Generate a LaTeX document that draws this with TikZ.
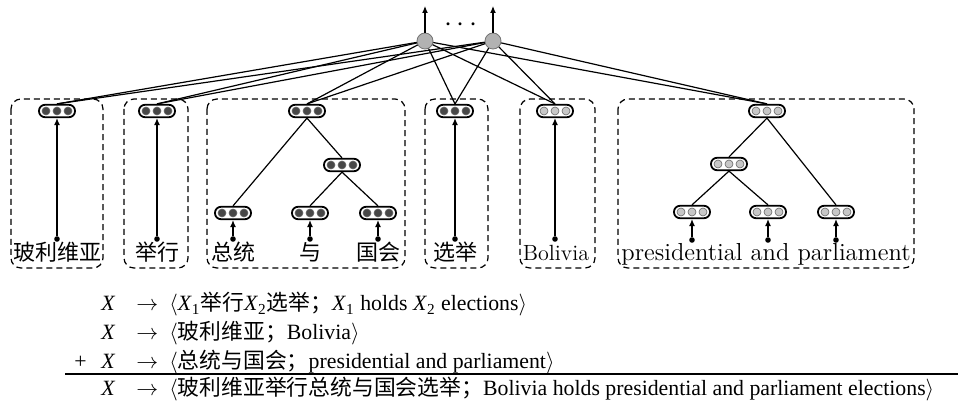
\documentclass[tikz,border=0pt]{standalone}
\usepackage{fontspec}
\usepackage{tikz}
\usetikzlibrary{
	positioning,    % relative placement
	arrows.meta,    % Latex tips
	calc
}
\newfontfamily\cjk{Noto Sans CJK SC}
\newfontfamily\timesfont{Liberation Serif}

\colorlet{chfill}{black!72}  % Chinese side vectors
\colorlet{enfill}{black!22}  % English side vectors

\tikzset{
	vecbox/.style={draw, line width=0.9pt, fill=white, rounded corners=3pt,
		minimum width=18pt, minimum height=6.2pt, inner sep=0pt},
	groupbox/.style={dash pattern=on 3pt off 2pt, line width=0.6pt, rounded corners=5pt},
	hidden/.style={circle, draw=black!55, fill=black!30, minimum size=8pt, inner sep=0pt},
	leafdot/.style={circle, fill, inner sep=0pt, minimum size=2.8pt},
	link/.style={line width=0.6pt},
	word/.style={anchor=base, inner sep=0pt, font=\fontsize{11}{13}\selectfont},
	cjkword/.style={word, font=\cjk\fontsize{11}{13}\selectfont},
	eqtext/.style={anchor=base west, inner sep=0pt, font=\timesfont\fontsize{10.9}{13}\selectfont}
}

% vector node: name, position, colour of the three cells
\newcommand{\vecnode}[3]{%
	\node[vecbox] (#1) at (#2) {};
	\foreach \k in {-1,0,1}
		\filldraw[fill=#3, draw=black!60, line width=0.3pt] ([xshift=\k*5.5pt]#1.center) circle (2pt);
}
\newcommand{\Xsub}[1]{\textit{X}\textsubscript{#1}}

\begin{document}
\begin{tikzpicture}[x=0.5pt, y=-0.5pt, >={Latex[length=3.5pt,width=3pt]}]
	\useasboundingbox (0,0) rectangle (960,417);
	
	% --- Gruppi (riquadri tratteggiati) ---
	\draw[groupbox] (11,99) rectangle (103,268);
	\draw[groupbox] (124,99) rectangle (188,268);
	\draw[groupbox] (207,99) rectangle (405,268);
	\draw[groupbox] (425,99) rectangle (488,268);
	\draw[groupbox] (520,99) rectangle (595,268);
	\draw[groupbox] (618,99) rectangle (914,268);
	
	% --- Nodi vettore ---
	\vecnode{v1}{57,111}{chfill}
	\vecnode{v2}{157,111}{chfill}
	\vecnode{v3}{307,111}{chfill}
	\vecnode{v4}{455,111}{chfill}
	\vecnode{v5}{555,111}{enfill}
	\vecnode{v6}{767,111}{enfill}
	\vecnode{m3}{342,165}{chfill}
	\vecnode{b3a}{233,213}{chfill}
	\vecnode{b3b}{310,213}{chfill}
	\vecnode{b3c}{378,213}{chfill}
	\vecnode{m6}{729,164}{enfill}
	\vecnode{b6a}{692,212}{enfill}
	\vecnode{b6b}{768,212}{enfill}
	\vecnode{b6c}{836,212}{enfill}
	
	% --- Parole ---
	\node[cjkword] (l1) at (57,261) {玻利维亚};
	\node[cjkword] (l2) at (157,261) {举行};
	\node[cjkword] (l3a) at (233,261) {总统};
	\node[cjkword] (l3b) at (310,261) {与};
	\node[cjkword] (l3c) at (378,261) {国会};
	\node[cjkword] (l4) at (455,261) {选举};
	\node[word] (l5) at (556,261) {Bolivia};
	\node[word, font=\fontsize{12.3}{14}\selectfont] (l6) at (766,261) {presidential and parliament};
	
	% --- Punti foglia ---
	\node[leafdot] (d1) at (57,239) {};
	\node[leafdot] (d2) at (157,239) {};
	\node[leafdot] (d3a) at (233,239) {};
	\node[leafdot] (d3b) at (310,239) {};
	\node[leafdot] (d3c) at (378,239) {};
	\node[leafdot] (d4) at (455,239) {};
	\node[leafdot] (d5) at (555,239) {};
	\node[leafdot] (d6a) at (692,240) {};
	\node[leafdot] (d6b) at (768,240) {};
	\node[leafdot] (d6c) at (836,240) {};
	
	% Frecce dalle foglie
	\draw[link, ->] (d1) -- (v1.south);
	\draw[link, ->] (d2) -- (v2.south);
	\draw[link, ->] (d4) -- (v4.south);
	\draw[link, ->] (d5) -- (v5.south);
	\foreach \d/\b in {d3a/b3a, d3b/b3b, d3c/b3c, d6a/b6a, d6b/b6b, d6c/b6c}
		\draw[link, ->] (\d) -- (\b.south);
	
	% Rami degli alberi
	\draw[link] (v3.south) -- (b3a.north);
	\draw[link] (v3.south) -- (m3.north);
	\draw[link] (m3.south) -- (b3b.north);
	\draw[link] (m3.south) -- (b3c.north);
	\draw[link] (v6.south) -- (m6.north);
	\draw[link] (v6.south) -- (b6c.north);
	\draw[link] (m6.south) -- (b6a.north);
	\draw[link] (m6.south) -- (b6b.north);
	
	% --- Strato nascosto ---
	\node[hidden] (h1) at (425,41) {};
	\node[hidden] (h2) at (493,41) {};
	\node[font=\fontsize{15}{15}\selectfont] (dots) at (461,25) {$\cdots$};
	\coordinate (o1) at (425,6);
	\coordinate (o2) at (493,6);
	\draw[link, ->] (h1) -- (o1);
	\draw[link, ->] (h2) -- (o2);
	\foreach \v in {v1,v2,v3,v4,v5,v6}
		\foreach \h in {h1,h2}
			\draw[link] (\h) -- (\v.north);
	
	% --- Regole ---
	\node[eqtext] (x1) at (101,311) {\textit{X}};
	\node[eqtext] (a1) at (136,311) {$\rightarrow$};
	\node[eqtext] (r1) at (169,311) {$\langle$\Xsub{1}{\cjk 举行}\Xsub{2}{\cjk 选举；}\Xsub{1} holds \Xsub{2} elections$\rangle$};
	\node[eqtext] (x2) at (101,340) {\textit{X}};
	\node[eqtext] (a2) at (136,340) {$\rightarrow$};
	\node[eqtext] (r2) at (169,340) {$\langle${\cjk 玻利维亚；}Bolivia$\rangle$};
	\node[eqtext] (plus) at (74,368) {+};
	\node[eqtext] (x3) at (101,368) {\textit{X}};
	\node[eqtext] (a3) at (136,368) {$\rightarrow$};
	\node[eqtext] (r3) at (169,368) {$\langle${\cjk 总统与国会；}presidential and parliament$\rangle$};
	\draw[line width=0.7pt] (65,374) -- (958,374);
	\node[eqtext] (x4) at (101,395) {\textit{X}};
	\node[eqtext] (a4) at (136,395) {$\rightarrow$};
	\node[eqtext] (r4) at (169,395) {$\langle${\cjk 玻利维亚举行总统与国会选举；}Bolivia holds presidential and parliament elections$\rangle$};
\end{tikzpicture}
\end{document}
